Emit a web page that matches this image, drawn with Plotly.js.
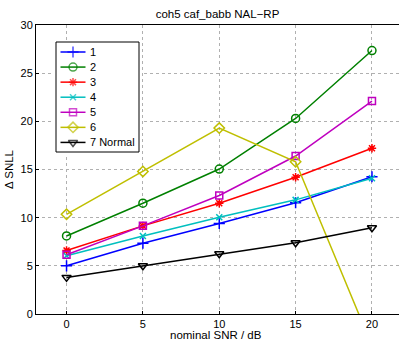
<!DOCTYPE html>
<html>
<head>
<meta charset="utf-8">
<script src="https://cdn.plot.ly/plotly-3.0.1.min.js"></script>
<style>html,body{margin:0;padding:0;background:#fff;}#chart{width:399px;height:340px;}</style>
</head>
<body>
<div id="chart"></div>
<script>
var snr = [0, 5, 10, 15, 20];
var s1 = [5.0, 7.35, 9.4, 11.55, 14.25];
var s2 = [8.1, 11.5, 15.05, 20.3, 27.35];
var s3 = [6.6, 9.15, 11.5, 14.2, 17.2];
var s4 = [6.05, 8.1, 10.05, 11.85, 14.1];
var s5 = [6.15, 9.15, 12.3, 16.4, 22.1];
var s6 = [10.35, 14.8, 19.3, 15.8, -3.3];
var s7 = [3.8, 5.0, 6.25, 7.4, 8.95];
var names = ['1', '2', '3', '4', '5', '6', '7 Normal'];
var colors = ['#0000FF', '#008000', '#FF0000', '#00BFBF', '#BF00BF', '#BFBF00', '#000000'];
var symbols = ['cross-thin-open', 'circle-open', 'asterisk-open', 'x-thin-open', 'square-open', 'diamond-open', 'triangle-down-open'];
var sizes = [8, 8, 7, 6, 7, 8, 8];
var series = [s1, s2, s3, s4, s5, s6, s7];

var fam = 'Liberation Sans, Arial, sans-serif';
var font = {family: fam, size: 11, color: '#000'};
var labelFont = {family: fam, size: 11.5, color: '#000'};

var traces = series.map(function (ys, i) {
  return {
    x: snr, y: ys, name: names[i], type: 'scatter', mode: 'lines+markers',
    line: {color: colors[i], width: 1.5},
    marker: {symbol: symbols[i], size: sizes[i], color: colors[i], line: {color: colors[i], width: 1.5}},
    showlegend: false, hoverinfo: 'skip'
  };
});

// Legend drawn in an inset axis (box units in legend-local coordinates)
var legW = 83, legH = 110, rowGap = 15.07, rowTop = 10;
traces.push({
  x: [0, legW, legW, 0, 0], y: [0, 0, legH, legH, 0], xaxis: 'x2', yaxis: 'y2',
  type: 'scatter', mode: 'lines', fill: 'toself', fillcolor: '#fff',
  line: {color: '#000', width: 1}, showlegend: false, hoverinfo: 'skip'
});
var annotations = [];
names.forEach(function (nm, i) {
  var yy = rowTop + rowGap * i;
  traces.push({
    x: [4.5, 17, 29.5], y: [yy, yy, yy], xaxis: 'x2', yaxis: 'y2',
    type: 'scatter', mode: 'lines+markers',
    line: {color: colors[i], width: 1.5},
    marker: {symbol: symbols[i], size: [0, sizes[i], 0], color: colors[i], line: {color: colors[i], width: 1.5}},
    showlegend: false, hoverinfo: 'skip'
  });
  annotations.push({
    xref: 'x2', yref: 'y2', x: 31.5, y: yy, text: nm, showarrow: false,
    xanchor: 'left', yanchor: 'middle', font: font
  });
});
annotations.push({
  xref: 'paper', yref: 'paper', x: 0.496, y: -0.0727, text: 'nominal SNR / dB',
  showarrow: false, xanchor: 'center', yanchor: 'middle', font: labelFont
});

var layout = {
  width: 399, height: 340,
  margin: {l: 36, r: 0, t: 25, b: 26},
  paper_bgcolor: '#fff', plot_bgcolor: '#fff',
  font: font,
  showlegend: false,
  title: {text: 'coh5 caf_babb NAL\u2212RP', font: labelFont, xref: 'paper', x: 0.5, xanchor: 'center', yref: 'container', y: 0.96, yanchor: 'middle'},
  xaxis: {
    range: [-2, 21.77], tickvals: [0, 5, 10, 15, 20], ticktext: ['0', '5', '10', '15', '20'],
    showgrid: true, gridcolor: '#b0b0b0', griddash: 'dot', gridwidth: 1,
    zeroline: false, showline: true, linecolor: '#000', linewidth: 1, mirror: true,
    ticks: 'inside', ticklen: 3, tickcolor: '#000',
    tickfont: font
  },
  yaxis: {
    range: [0, 30], tickvals: [0, 5, 10, 15, 20, 25, 30],
    showgrid: true, gridcolor: '#b0b0b0', griddash: 'dot', gridwidth: 1,
    zeroline: false, showline: true, linecolor: '#000', linewidth: 1, mirror: false,
    ticks: 'inside', ticklen: 3, tickcolor: '#000',
    tickfont: font,
    title: {text: '\u0394 SNLL', font: labelFont, standoff: 4}
  },
  xaxis2: {
    domain: [(54 - 36) / 363, (141 - 36) / 363], range: [-2, 85], anchor: 'y2',
    showgrid: false, zeroline: false, showline: false, showticklabels: false, ticks: '', fixedrange: true
  },
  yaxis2: {
    domain: [(314 - 154) / 289, (314 - 40) / 289], range: [112, -2], anchor: 'x2',
    showgrid: false, zeroline: false, showline: false, showticklabels: false, ticks: '', fixedrange: true
  },
  annotations: annotations
};

Plotly.newPlot('chart', traces, layout, {displayModeBar: false, staticPlot: true});
</script>
</body>
</html>
